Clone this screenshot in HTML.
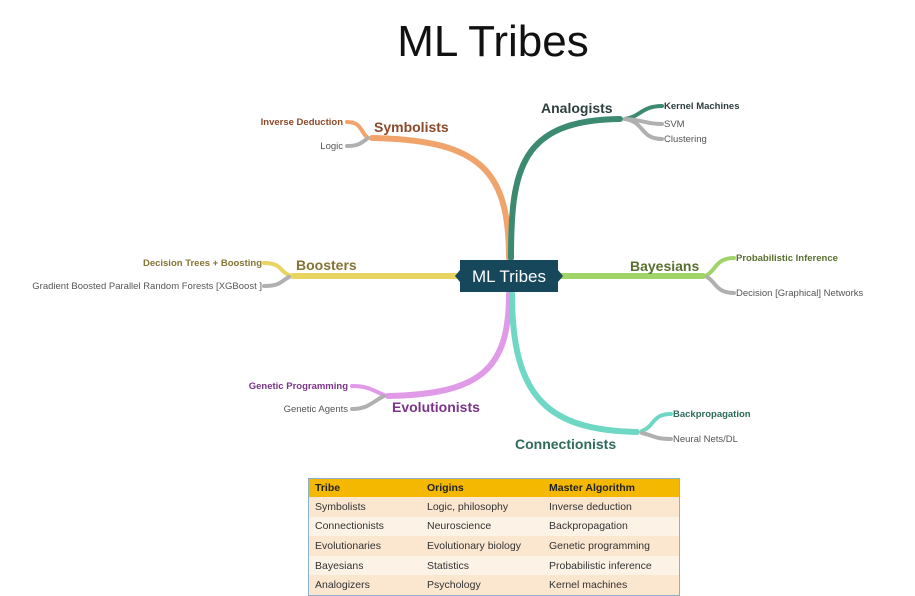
<!DOCTYPE html>
<html><head><meta charset="utf-8"><style>
body{margin:0;width:915px;height:596px;background:#fff;overflow:hidden;position:relative;font-family:"Liberation Sans",sans-serif}
table{position:absolute;left:308px;top:478px;width:372px;border-collapse:collapse;font-size:10.5px;color:#333;border:1px solid #8ab0cc}
td{padding:0 6px;height:19.6px}
tr.h td{background:#f5b800;font-weight:bold;height:18px;color:#222}
tr:nth-child(even) td{background:#fbe6cf}
tr:nth-child(odd):not(.h) td{background:#fdf2e6}
</style></head><body>
<svg width="915" height="596" style="position:absolute;left:0;top:0" font-family="Liberation Sans, sans-serif">
<text x="493" y="56" font-size="44" text-anchor="middle" fill="#111">ML Tribes</text>
<g fill="none" stroke-linecap="round">
<!-- Symbolists -->
<path d="M509 258 C509 170 480 140 372 138" stroke="#f0a46c" stroke-width="6"/>
<path d="M368 138 C360 132 362 122 347 122" stroke="#f0a46c" stroke-width="4"/>
<path d="M368 138 C360 144 358 146 347 146" stroke="#b0b0b0" stroke-width="4"/>
<!-- Analogists -->
<path d="M511 258 C511 170 520 120 620 119" stroke="#3d8a72" stroke-width="6"/>
<path d="M625 119 C640 117 642 106 662 106" stroke="#3d8a72" stroke-width="4"/>
<path d="M625 119 C645 120 645 124 662 124" stroke="#b0b0b0" stroke-width="4"/>
<path d="M625 119 C645 122 640 139 662 139" stroke="#b0b0b0" stroke-width="4"/>
<!-- Boosters -->
<path d="M458 276 L293 276" stroke="#e8d460" stroke-width="6"/>
<path d="M289 275 C280 272 282 263 264 263" stroke="#e8d460" stroke-width="4"/>
<path d="M289 277 C280 282 280 286 264 286" stroke="#b0b0b0" stroke-width="4"/>
<!-- Bayesians -->
<path d="M560 276 L703 276" stroke="#a0d468" stroke-width="6"/>
<path d="M707 275 C716 270 716 258 734 258" stroke="#a0d468" stroke-width="4"/>
<path d="M707 277 C716 282 716 293 734 293" stroke="#b0b0b0" stroke-width="4"/>
<!-- Evolutionists -->
<path d="M509 294 C509 370 480 394 388 396" stroke="#e09ae8" stroke-width="6"/>
<path d="M384 395 C372 390 368 386 352 386" stroke="#e09ae8" stroke-width="4"/>
<path d="M384 396 C372 402 368 409 352 409" stroke="#b0b0b0" stroke-width="4"/>
<!-- Connectionists -->
<path d="M512 294 C512 400 550 430 637 432" stroke="#6ed8c4" stroke-width="6"/>
<path d="M642 431 C655 426 652 414 671 414" stroke="#6ed8c4" stroke-width="4"/>
<path d="M642 433 C655 436 655 439 671 439" stroke="#b0b0b0" stroke-width="4"/>
</g>
<rect x="460" y="260" width="98" height="32" fill="#16475a"/>
<polygon points="460,270 455,276 460,282" fill="#16475a"/>
<polygon points="558,270 563,276 558,282" fill="#16475a"/>
<text x="509" y="282" font-size="17" fill="#fff" text-anchor="middle">ML Tribes</text>
<g font-weight="bold" font-size="14">
<text x="374" y="132" fill="#8b4a2a">Symbolists</text>
<text x="541" y="113" fill="#2d3e3e">Analogists</text>
<text x="296" y="270" fill="#847434">Boosters</text>
<text x="630" y="271" fill="#5a7030">Bayesians</text>
<text x="392" y="412" fill="#7a3488">Evolutionists</text>
<text x="515" y="449" fill="#2f6a5a">Connectionists</text>
</g>
<g font-size="9.5">
<text x="343" y="125" text-anchor="end" fill="#8b4a2a" font-weight="bold">Inverse Deduction</text>
<text x="343" y="149" text-anchor="end" fill="#555">Logic</text>
<text x="664" y="109" fill="#2d3e3e" font-weight="bold">Kernel Machines</text>
<text x="664" y="127" fill="#555">SVM</text>
<text x="664" y="142" fill="#555">Clustering</text>
<text x="262" y="266" text-anchor="end" fill="#847434" font-weight="bold">Decision Trees + Boosting</text>
<text x="262" y="289" text-anchor="end" fill="#555">Gradient Boosted Parallel Random Forests [XGBoost ]</text>
<text x="736" y="261" fill="#5a7030" font-weight="bold">Probabilistic Inference</text>
<text x="736" y="296" fill="#555">Decision [Graphical] Networks</text>
<text x="348" y="389" text-anchor="end" fill="#7a3488" font-weight="bold">Genetic Programming</text>
<text x="348" y="412" text-anchor="end" fill="#555">Genetic Agents</text>
<text x="673" y="417" fill="#2f6a5a" font-weight="bold">Backpropagation</text>
<text x="673" y="442" fill="#555">Neural Nets/DL</text>
</g>
</svg>
<table>
<tr class="h"><td style="width:100px">Tribe</td><td style="width:110px">Origins</td><td>Master Algorithm</td></tr>
<tr><td>Symbolists</td><td>Logic, philosophy</td><td>Inverse deduction</td></tr>
<tr><td>Connectionists</td><td>Neuroscience</td><td>Backpropagation</td></tr>
<tr><td>Evolutionaries</td><td>Evolutionary biology</td><td>Genetic programming</td></tr>
<tr><td>Bayesians</td><td>Statistics</td><td>Probabilistic inference</td></tr>
<tr><td>Analogizers</td><td>Psychology</td><td>Kernel machines</td></tr>
</table>
</body></html>
